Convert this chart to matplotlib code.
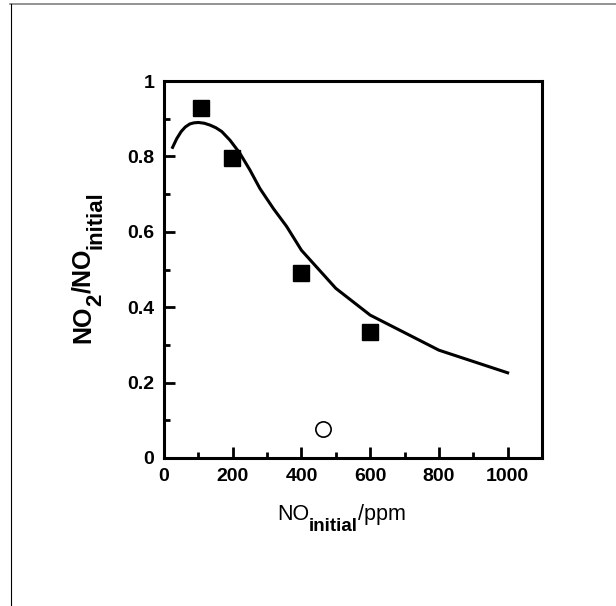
import matplotlib
matplotlib.use("Agg")
import matplotlib.pyplot as plt
from matplotlib.lines import Line2D
from matplotlib.ticker import MultipleLocator

plt.rcParams['font.family'] = ['Liberation Sans', 'DejaVu Sans']

# measured points
no_init = [108, 199, 400, 599]
ratio = [0.928, 0.797, 0.491, 0.334]

# open circle point
circle_x = [463]
circle_y = [0.077]

# model curve
curve_x = [25, 37, 50, 62, 75, 87, 100, 117, 134, 151, 168, 192, 221, 250, 279, 318, 357, 400, 500, 600, 800, 1000]
curve_y = [0.824, 0.847, 0.866, 0.878, 0.886, 0.889, 0.890, 0.888, 0.883, 0.876, 0.866, 0.843, 0.808, 0.764, 0.715, 0.662, 0.614, 0.551, 0.450, 0.379, 0.286, 0.226]

W, H = 616, 606
fig = plt.figure(figsize=(W / 100, H / 100), dpi=100)
ax = fig.add_axes([164 / W, 1 - 458 / H, 378 / W, 377 / H])

ax.plot(curve_x, curve_y, color='black', lw=2.2)
ax.plot(no_init, ratio, 's', color='black', markersize=11.5)
ax.plot(circle_x, circle_y, 'o', mfc='white', mec='black', mew=1.2, markersize=11)

ax.set_xlim(0, 1100)
ax.set_ylim(0, 1)
ax.xaxis.set_major_locator(MultipleLocator(200))
ax.xaxis.set_minor_locator(MultipleLocator(100))
ax.yaxis.set_minor_locator(MultipleLocator(0.1))
ax.set_yticks([0, 0.2, 0.4, 0.6, 0.8, 1])
ax.set_yticklabels(['0', '0.2', '0.4', '0.6', '0.8', '1'])

ax.tick_params(which='both', direction='in', width=2, labelsize=14, top=False, right=False)
ax.tick_params(which='major', length=8, pad=7)
ax.tick_params(which='minor', length=4)
for lab in ax.get_xticklabels() + ax.get_yticklabels():
    lab.set_fontweight('bold')
for s in ax.spines.values():
    s.set_linewidth(2.2)

renderer = fig.canvas.get_renderer()


def label_pieces(pieces, x0, y0, vertical=False):
    # pieces: (text, size, weight, drop in px); placed one after another in pixels
    pos = 0.0
    for txt, size, weight, drop in pieces:
        if vertical:
            x, y, rot = x0 + drop, y0 + pos, 90
        else:
            x, y, rot = x0 + pos, y0 - drop, 0
        t = fig.text(x / W, y / H, txt, fontsize=size, fontweight=weight, rotation=rot,
                     rotation_mode='anchor', ha='left', va='baseline')
        bb = t.get_window_extent(renderer)
        pos += bb.height if vertical else bb.width


label_pieces([('NO', 15.5, 'normal', 0), ('initial', 13.5, 'bold', 11), ('/ppm', 15.5, 'normal', 0)],
             277, H - 520)
label_pieces([('NO', 18, 'bold', 0), ('2', 16, 'bold', 11), ('/NO', 18, 'bold', 0),
              ('initial', 16, 'bold', 11)], 90, H - 343, vertical=True)

# outer frame (top and left edges)
fig.add_artist(Line2D([10 / W, 1], [1 - 4 / H, 1 - 4 / H], transform=fig.transFigure, color='gray', lw=1.2))
fig.add_artist(Line2D([11 / W, 11 / W], [0, 1 - 4 / H], transform=fig.transFigure, color='black', lw=0.8))

fig.savefig("out.png", dpi=100)
